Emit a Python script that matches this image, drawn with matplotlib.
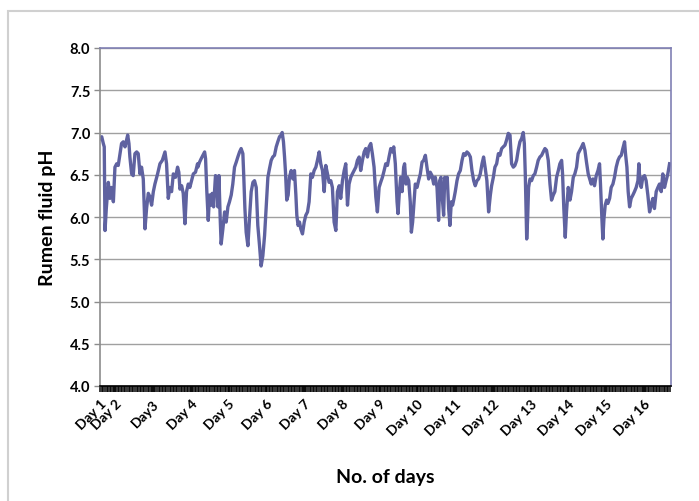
import matplotlib
matplotlib.use("Agg")
import matplotlib.pyplot as plt
from matplotlib.patches import Rectangle

plt.rcParams['font.family'] = ['Lato', 'DejaVu Sans']

# hours since the first reading (Day 1, ~14:30) and rumen pH
hours = [
    0.0, 0.9, 1.9, 2.5, 3.0, 3.8, 5.1, 6.1, 7.2, 8.3, 9.3, 10.4, 11.4, 12.5, 13.5, 14.6,
    15.7, 17.4, 18.2, 18.8, 19.9, 20.9, 22.0, 23.1, 24.1, 25.2, 26.2, 27.3, 28.4, 29.4,
    30.5, 31.5, 32.6, 33.7, 34.7, 36.4, 37.9, 39.4, 41.1, 42.1, 43.2, 44.2, 45.3, 46.4,
    47.8, 49.1, 49.9, 50.6, 51.7, 52.7, 53.8, 54.8, 55.9, 56.9, 58.0, 59.1, 60.5, 61.8,
    62.0, 63.1, 64.1, 65.2, 66.3, 66.9, 67.7, 68.6, 69.4, 70.5, 71.1, 72.0, 72.6, 73.2,
    74.1, 74.7, 75.4, 76.2, 76.8, 77.9, 79.0, 80.0, 81.1, 82.1, 83.2, 84.2, 85.3, 86.4,
    87.4, 88.5, 89.5, 90.6, 91.2, 91.9, 92.7, 93.8, 94.8, 95.9, 97.0, 98.0, 99.1, 100.1,
    101.2, 102.2, 103.3, 104.4, 105.4, 106.5, 107.5, 108.6, 109.6, 110.7, 111.8, 112.8,
    113.9, 114.9, 115.6, 116.4, 117.1, 117.7, 118.5, 119.4, 120.2, 121.3, 122.4, 123.4,
    124.3, 124.9, 125.7, 126.6, 127.4, 128.5, 129.6, 130.6, 131.7, 132.7, 133.8, 134.8,
    135.9, 137.0, 138.0, 139.1, 140.1, 141.2, 142.3, 143.3, 144.4, 145.4, 146.5, 147.5,
    148.6, 149.7, 150.7, 151.8, 152.8, 153.9, 155.0, 156.0, 157.1, 158.1, 159.2, 160.2,
    161.3, 162.4, 163.4, 164.5, 165.5, 166.6, 167.7, 168.7, 169.8, 170.8, 171.9, 172.9,
    174.0, 175.1, 176.1, 177.2, 178.2, 179.3, 180.4, 181.4, 182.5, 183.5, 184.6, 185.7,
    186.5, 187.5, 188.6, 189.2, 190.1, 190.9, 191.8, 192.8, 193.4, 194.3, 195.1, 196.0,
    197.0, 197.7, 198.5, 199.4, 200.2, 201.3, 202.3, 203.4, 204.5, 205.5, 206.6, 207.6,
    208.7, 209.7, 210.8, 211.9, 212.9, 214.0, 215.0, 215.7, 216.5, 217.2, 218.2, 218.9,
    219.7, 220.5, 221.4, 222.2, 223.1, 223.9, 224.8, 225.6, 226.7, 227.7, 228.8, 229.9,
    230.9, 232.0, 233.0, 234.1, 235.2, 236.2, 237.3, 238.3, 239.4, 240.4, 241.5, 242.6,
    243.6, 244.7, 245.7, 246.8, 247.9,
    248.7, 249.8, 250.8, 251.9, 253.0, 254.0, 255.1, 256.1, 257.2, 258.2, 259.3, 260.4,
    261.4, 262.5, 263.5, 264.6, 265.6, 266.7, 267.8, 268.8, 269.5, 270.1, 271.0, 271.6,
    272.2, 273.1, 274.1, 275.2, 276.2, 277.3, 278.3, 279.4, 280.5, 281.5, 282.6, 283.6,
    284.7, 285.8, 286.8, 287.9, 288.9, 290.0, 291.1, 292.1, 293.2, 293.8, 294.6, 295.5,
    296.3, 297.4, 298.5, 299.5, 300.6, 301.6, 302.7, 303.7, 304.8, 305.9, 306.9, 308.0,
    309.0, 310.1,
    312.0, 313.1, 314.1, 315.2, 316.3, 317.3, 317.9, 318.8, 319.4, 320.1, 320.9, 321.8,
    322.6, 323.7, 324.7, 325.8, 326.8, 327.9, 329.0, 330.0, 331.1, 332.1, 333.2, 333.8,
    334.7, 335.5, 336.4, 337.4, 338.5, 339.5, 340.6, 341.7, 342.3, 342.9, 343.8, 344.8,
    345.9, 346.9, 348.0, 349.1, 350.1, 351.2, 352.2, 353.3, 354.4, 355.4, 356.5, 357.5,
    358.6, 359.6, 360.7, 361.8,
]

ph = [
    6.93, 6.95, 6.87, 6.83, 5.84, 6.10, 6.41, 6.22, 6.35, 6.18, 6.59, 6.63, 6.61, 6.75, 6.87, 6.89,
    6.83, 6.97, 6.87, 6.71, 6.51, 6.49, 6.75, 6.77, 6.75, 6.51, 6.59, 6.45, 5.86, 6.10,
    6.28, 6.24, 6.14, 6.30, 6.39, 6.51, 6.63, 6.67, 6.77, 6.63, 6.22, 6.35, 6.30, 6.51,
    6.47, 6.59, 6.53, 6.33, 6.37, 6.28, 5.92, 6.30, 6.39, 6.35, 6.43, 6.51, 6.53, 6.63,
    6.59, 6.65, 6.69, 6.73, 6.77, 6.69, 6.30, 5.96, 6.26, 6.14, 6.28, 6.12, 6.30, 6.49,
    6.47, 6.12, 6.49, 5.98, 5.68, 5.86, 6.06, 5.94, 6.12, 6.18, 6.26, 6.39, 6.59, 6.65,
    6.71, 6.77, 6.81, 6.75, 6.47, 6.10, 5.82, 5.66, 5.98, 6.30, 6.41, 6.43, 6.35, 5.90,
    5.66, 5.42, 5.54, 5.78, 6.10, 6.47, 6.57, 6.67, 6.71, 6.73, 6.83, 6.89,
    6.95, 6.97, 7.00, 6.89, 6.71, 6.53, 6.20, 6.26, 6.47, 6.55, 6.45, 6.55,
    6.26, 6.02, 5.90, 5.94, 5.86, 5.80, 5.94, 6.02, 6.06, 6.18, 6.51, 6.47,
    6.55, 6.59, 6.67, 6.77, 6.63, 6.55, 6.30, 6.61, 6.51, 6.41, 6.43, 6.35,
    5.94, 5.84, 6.30, 6.37, 6.22, 6.43, 6.55, 6.63, 6.14, 6.39, 6.47, 6.51,
    6.55, 6.59, 6.67, 6.71, 6.55, 6.67, 6.77, 6.81, 6.71, 6.83, 6.87, 6.75,
    6.59, 6.24, 6.06, 6.35, 6.41, 6.47, 6.55, 6.63, 6.61, 6.71, 6.81, 6.77,
    6.83, 6.63, 6.18, 6.04, 6.30, 6.47, 6.30, 6.59, 6.63, 6.39, 6.47, 6.43,
    6.18, 5.82, 5.94, 6.18, 6.39, 6.35, 6.43, 6.51, 6.65, 6.67, 6.73, 6.59,
    6.45, 6.53, 6.49, 6.39, 6.47, 6.35, 5.96, 6.43, 6.47, 6.26, 6.02, 6.47,
    6.35, 6.47, 6.10, 5.90, 6.18, 6.14, 6.22, 6.30, 6.43, 6.51, 6.55, 6.67,
    6.75, 6.73, 6.77, 6.75, 6.71, 6.55, 6.43, 6.37, 6.43, 6.45, 6.51, 6.63,
    6.71, 6.57, 6.43, 6.06, 6.26,
    6.37, 6.47, 6.59, 6.63, 6.75, 6.73, 6.81, 6.83, 6.85, 6.91, 6.99, 6.97,
    6.63, 6.59, 6.61, 6.67, 6.79, 6.89, 6.93, 7.00, 6.87, 6.51, 5.74, 5.98,
    6.35, 6.45, 6.43, 6.49, 6.51, 6.59, 6.67, 6.71, 6.73, 6.77, 6.81, 6.79,
    6.67, 6.39, 6.20, 6.26, 6.30, 6.47, 6.55, 6.63, 6.67, 6.51, 6.10, 5.76,
    6.06, 6.35, 6.20, 6.30, 6.47, 6.51, 6.59, 6.75, 6.79, 6.83, 6.87, 6.79,
    6.65, 6.51,
    6.39, 6.45, 6.37, 6.49, 6.55, 6.63, 6.39, 5.98, 5.74, 5.98, 6.14, 6.20,
    6.16, 6.22, 6.35, 6.39, 6.47, 6.59, 6.67, 6.71, 6.73, 6.81, 6.89, 6.75,
    6.59, 6.30, 6.12, 6.22, 6.26, 6.30, 6.35, 6.43, 6.63, 6.43, 6.35, 6.47,
    6.49, 6.43, 6.26, 6.06, 6.14, 6.22, 6.10, 6.30, 6.35, 6.39, 6.30, 6.51,
    6.35, 6.43, 6.51, 6.63,
]

day_labels = ["Day 1", "Day 2", "Day3", "Day 4", "Day 5", "Day 6", "Day 7", "Day 8",
              "Day 9", "Day 10", "Day 11", "Day 12", "Day 13", "Day 14", "Day 15", "Day 16"]
day_hours = [0.0] + [9.5 + 24 * i for i in range(15)]
y_ticks = [4.0, 4.5, 5.0, 5.5, 6.0, 6.5, 7.0, 7.5, 8.0]

fig = plt.figure(figsize=(6.99, 5.02), dpi=100)
fig.patches.append(Rectangle((8 / 699, -0.1), 1.2, 1 - 12 / 502 + 0.1, transform=fig.transFigure,
                             fill=False, edgecolor='#d0d0d0', lw=1.5))

ax = fig.add_axes([100 / 699, 1 - 387 / 502, 570.5 / 699, 338 / 502])
ax.plot(hours, ph, color='#5F62A0', lw=2.4, solid_joinstyle='round')

ax.set_ylim(4.0, 8.0)
ax.set_xlim(-0.2, 362.4)
ax.set_yticks(y_ticks)
ax.set_yticklabels(["%.1f" % v for v in y_ticks], fontsize=10.5, fontweight='bold')
ax.yaxis.grid(True, color='#a0a0a0', lw=1.0)
ax.set_axisbelow(True)

ax.set_xticks(day_hours)
ax.set_xticklabels(day_labels, rotation=45, ha='right', rotation_mode='anchor',
                   fontsize=10, fontweight='bold')
ax.set_xticks(list(range(0, 363)), minor=True)
ax.tick_params(axis='x', which='both', direction='out', length=4, width=1.1, color='black', pad=4)
ax.tick_params(axis='y', direction='out', length=4, width=1, color='#8c8c8c', pad=3)

for side in ('top', 'right'):
    ax.spines[side].set_color('#8080b4')
    ax.spines[side].set_linewidth(1.2)
ax.spines['left'].set_color('#8c8c8c')
ax.spines['left'].set_linewidth(1.2)
ax.spines['bottom'].set_color('black')
ax.spines['bottom'].set_linewidth(1.2)

ax.set_ylabel("Rumen fluid pH", fontsize=14, fontweight='bold', labelpad=10)
ax.set_xlabel("No. of days", fontsize=14, fontweight='bold', labelpad=22)

fig.savefig("out.png", dpi=100)
